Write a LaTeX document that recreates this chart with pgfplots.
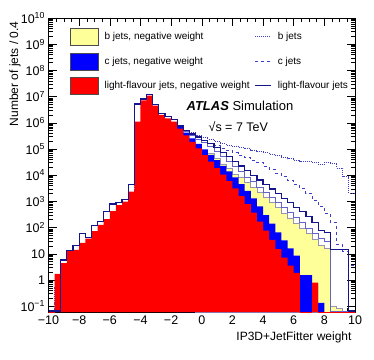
\documentclass[border=0pt]{standalone}
\usepackage{fontspec}
\setmainfont{Liberation Sans}
\usepackage{pgfplots}
\pgfplotsset{compat=1.18}
\definecolor{bneg}{RGB}{255,255,153}
\definecolor{cneg}{RGB}{0,0,255}
\definecolor{lneg}{RGB}{255,0,0}
\definecolor{lline}{RGB}{20,20,140}
\definecolor{midline}{RGB}{100,100,200}
\definecolor{bcline}{RGB}{60,60,205}
\definecolor{yedge}{RGB}{150,150,180}
\pgfplotsset{
  boxleg/.style={legend image code/.code={\draw[##1] (0pt,-8.5pt) rectangle (28pt,8.5pt);}},
  lineleg/.style={legend image code/.code={\draw[##1] (0pt,0pt) -- (16pt,0pt);}},
}

\begin{document}
\begin{tikzpicture}
\path[use as bounding box] (0,0) rectangle (374pt,359pt);
\begin{axis}[
  at={(48.5pt,47pt)}, anchor=south west,
  scale only axis, width=306.5pt, height=294pt,
  xmin=-10, xmax=10, ymin=0.06, ymax=1e10,
  ymode=log, log origin=infty,
  xtick={-10,-8,...,10},
  xticklabels={−10,−8,−6,−4,−2,0,2,4,6,8,10},
  minor x tick num=3,
  ytick={1e-1,1,10,1e2,1e3,1e4,1e5,1e6,1e7,1e8,1e9,1e10},
  yticklabels={10\textsuperscript{−1},1,10,10\textsuperscript{2},10\textsuperscript{3},10\textsuperscript{4},10\textsuperscript{5},10\textsuperscript{6},10\textsuperscript{7},10\textsuperscript{8},10\textsuperscript{9},10\textsuperscript{10}},
  tick align=inside, major tick length=8pt, minor tick length=4pt,
  tick style={black, line width=0.5pt},
  axis line style={line width=0.8pt},
  tick label style={font=\fontsize{12.5}{14}\selectfont},
  xlabel={IP3D+JetFitter weight},
  ylabel={Number of jets / 0.4},
  label style={font=\fontsize{12}{14}\selectfont},
  xlabel style={at={(rel axis cs:1,-0.085)}, anchor=east},
  ylabel style={at={(rel axis cs:-0.109,1)}, anchor=east},
  legend style={at={(rel axis cs:0.0701,0.966)}, anchor=north west, draw=none, fill=none,
    font=\fontsize{10}{12}\selectfont, row sep=7pt, inner sep=0pt,
    nodes={inner sep=0pt},
    /tikz/every odd column/.append style={column sep=6pt},
    /tikz/every even column/.append style={column sep=5pt}},
  legend columns=2, legend cell align=left,
]
\addlegendimage{boxleg, fill=bneg, draw=black!70}
\addlegendentry{b jets, negative weight}
\addlegendimage{lineleg, bcline, densely dotted, line width=1pt}
\addlegendentry{b jets}
\addlegendimage{boxleg, fill=cneg, draw=black!70}
\addlegendentry{c jets, negative weight}
\addlegendimage{lineleg, bcline, dashed, line width=1pt}
\addlegendentry{c jets}
\addlegendimage{boxleg, fill=lneg, draw=black!70}
\addlegendentry{light-flavour jets, negative weight}
\addlegendimage{lineleg, lline, line width=1.2pt}
\addlegendentry{light-flavour jets}

% b jets
\addplot[forget plot, const plot, bcline, densely dotted, line width=1pt] coordinates {
(-10,1e-3)(-9.6,0.5)(-9.2,1.3)(-8.8,4)(-8.4,4)(-8,8)(-7.6,11)(-7.2,22)(-6.8,38)(-6.4,63)
(-6,128)(-5.6,217)(-5.2,293)(-4.8,700)(-4.4,1e5)(-4,3.98e5)(-3.6,7.94e5)(-3.2,8.9e5)(-2.8,7.94e5)(-2.4,7.08e5)
(-2,6.31e5)(-1.6,5.37e5)(-1.2,5.25e5)(-0.8,4.17e5)(-0.4,3.31e5)(0,2.75e5)(0.4,2.29e5)(0.8,1.91e5)(1.2,1.58e5)(1.6,1.38e5)
(2,1.26e5)(2.4,1.15e5)(2.8,1.0e5)(3.2,8.9e4)(3.6,7.94e4)(4,7.08e4)(4.4,6.31e4)(4.8,5.62e4)(5.2,4.79e4)(5.6,4.17e4)
(6,3.8e4)(6.4,3.39e4)(6.8,3.31e4)(7.2,3.16e4)(7.6,2.63e4)(8,3.02e4)(8.4,2.88e4)(8.8,1.82e4)(9.2,8710)(9.6,2040)(10,2040)};
% c jets
\addplot[forget plot, const plot, bcline, dashed, line width=1pt] coordinates {
(-10,1e-3)(-9.6,0.17)(-9.2,0.44)(-8.8,1.3)(-8.4,1.4)(-8,2.6)(-7.6,3.8)(-7.2,7.4)(-6.8,12.6)(-6.4,21)
(-6,43)(-5.6,72)(-5.2,98)(-4.8,234)(-4.4,3.16e4)(-4,1e5)(-3.6,2e5)(-3.2,2.82e5)(-2.8,3.16e5)(-2.4,3.16e5)
(-2,3.16e5)(-1.6,3.98e5)(-1.2,3.98e5)(-0.8,3.16e5)(-0.4,2.63e5)(0,2.14e5)(0.4,1.66e5)(0.8,1.32e5)(1.2,1.05e5)(1.6,8.5e4)
(2,7.08e4)(2.4,5.89e4)(2.8,4.79e4)(3.2,3.8e4)(3.6,2.95e4)(4,2.24e4)(4.4,1.66e4)(4.8,1.2e4)(5.2,8710)(5.6,6310)
(6,4470)(6.4,3160)(6.8,2000)(7.2,1120)(7.6,661)(8,355)(8.4,158)(8.8,22.4)(9.2,12.6)(9.6,3.55)(10,3.55)};
% b jets, negative weight
\addplot[forget plot, const plot, fill=bneg, draw=yedge, line width=0.8pt] coordinates {
(-0.4,1.0e5)(0,8.9e4)(0.4,6.6e4)(0.8,4.27e4)(1.2,2.69e4)(1.6,1.74e4)
(2,1.10e4)(2.4,8510)(2.8,5370)(3.2,3470)(3.6,2190)(4,1410)(4.4,891)(4.8,575)(5.2,363)(5.6,234)
(6,148)(6.4,95.5)(6.8,60.3)(7.2,35.5)(7.6,20.4)(8,15.8)(8.4,0.1)(8.8,0.08)(9.2,1e-3)(9.6,1e-3)(10,1e-3)} \closedcycle;
% c jets, negative weight
\addplot[forget plot, const plot, fill=cneg, draw=none] coordinates {
(-1.6,7.08e5)(-1.2,4.17e5)(-0.8,2.57e5)(-0.4,1.58e5)(0,9.77e4)(0.4,6.03e4)(0.8,3.72e4)(1.2,2.29e4)(1.6,1.41e4)
(2,8320)(2.4,4570)(2.8,2510)(3.2,1290)(3.6,646)(4,302)(4.4,141)(4.8,66.1)(5.2,32.4)(5.6,16.2)
(6,8.51)(6.4,1.55)(6.8,1.55)(7.2,0.75)(7.6,0.135)(8,1e-3)(8.4,1e-3)(8.8,1e-3)(9.2,1e-3)(9.6,1e-3)(10,1e-3)} \closedcycle;
% light-flavour jets, negative weight
\addplot[forget plot, const plot, fill=lneg, draw=none] coordinates {
(-10,1e-3)(-9.6,1.7)(-9.2,4.4)(-8.8,13)(-8.4,14)(-8,26)(-7.6,38)(-7.2,74)(-6.8,126)(-6.4,209)
(-6,427)(-5.6,724)(-5.2,977)(-4.8,2340)(-4.4,1.1e6)(-4,7.2e6)(-3.6,1.1e7)(-3.2,4.5e6)(-2.8,2.0e6)(-2.4,1.48e6)
(-2,1.12e6)(-1.6,6.03e5)(-1.2,3.31e5)(-0.8,1.86e5)(-0.4,1.05e5)(0,5.89e4)(0.4,3.31e4)(0.8,1.86e4)(1.2,1.05e4)(1.6,5890)
(2,3160)(2.4,1585)(2.8,794)(3.2,372)(3.6,170)(4,75.9)(4.4,33.9)(4.8,15.1)(5.2,7.08)(5.6,3.55)
(6,1.86)(6.4,1e-3)(6.8,1e-3)(7.2,0.8)(7.6,1e-3)(8,1e-3)(8.4,1e-3)(8.8,1e-3)(9.2,1e-3)(9.6,1e-3)(10,1e-3)} \closedcycle;
% second solid line
\addplot[forget plot, const plot, midline, line width=1pt] coordinates {
(-1.6,7.08e5)(-1.2,4.57e5)(-0.8,3.16e5)(-0.4,2.40e5)(0,1.70e5)(0.4,1.26e5)(0.8,8.13e4)(1.2,5.13e4)(1.6,3.31e4)
(2,2.09e4)(2.4,1.35e4)(2.8,8510)(3.2,5500)(3.6,3470)(4,2240)(4.4,1410)(4.8,912)(5.2,575)(5.6,372)
(6,234)(6.4,151)(6.8,95.5)(7.2,61.7)(7.6,38.9)(8,30.2)(8.4,0.065)(10,0.065)};
% light-flavour jets
\addplot[forget plot, const plot, lline, line width=1.2pt] coordinates {
(-10,0.065)(-9.6,0.065)(-9.2,5.8)(-8.8,13.2)(-8.4,21)(-8,60)(-7.6,41)(-7.2,123)(-6.8,170)(-6.4,407)
(-6,794)(-5.6,891)(-5.2,1200)(-4.8,4570)(-4.4,5.2e6)(-4,8.1e6)(-3.6,1.23e7)(-3.2,5.0e6)(-2.8,2.3e6)(-2.4,1.7e6)
(-2,1.3e6)(-1.6,7.6e5)(-1.2,5.13e5)(-0.8,3.72e5)(-0.4,2.88e5)(0,2.14e5)(0.4,1.66e5)(0.8,1.12e5)(1.2,7.41e4)(1.6,5.01e4)
(2,3.31e4)(2.4,2.24e4)(2.8,1.48e4)(3.2,1.0e4)(3.6,6610)(4,4470)(4.4,2950)(4.8,2000)(5.2,1320)(5.6,891)
(6,589)(6.4,398)(6.8,263)(7.2,155)(7.6,77.6)(8,63.1)(8.4,14.1)(8.8,14.1)(9.2,14.1)(9.6,0.065)(10,0.065)};

\node[anchor=base west, font=\fontsize{13}{15}\selectfont] at (rel axis cs:0.439,0.685) {\textbf{\textit{ATLAS}} Simulation};
\node[anchor=base west, font=\fontsize{12.5}{15}\selectfont] at (rel axis cs:0.511,0.614) {√s = 7 TeV};
\end{axis}
\end{tikzpicture}
\end{document}
